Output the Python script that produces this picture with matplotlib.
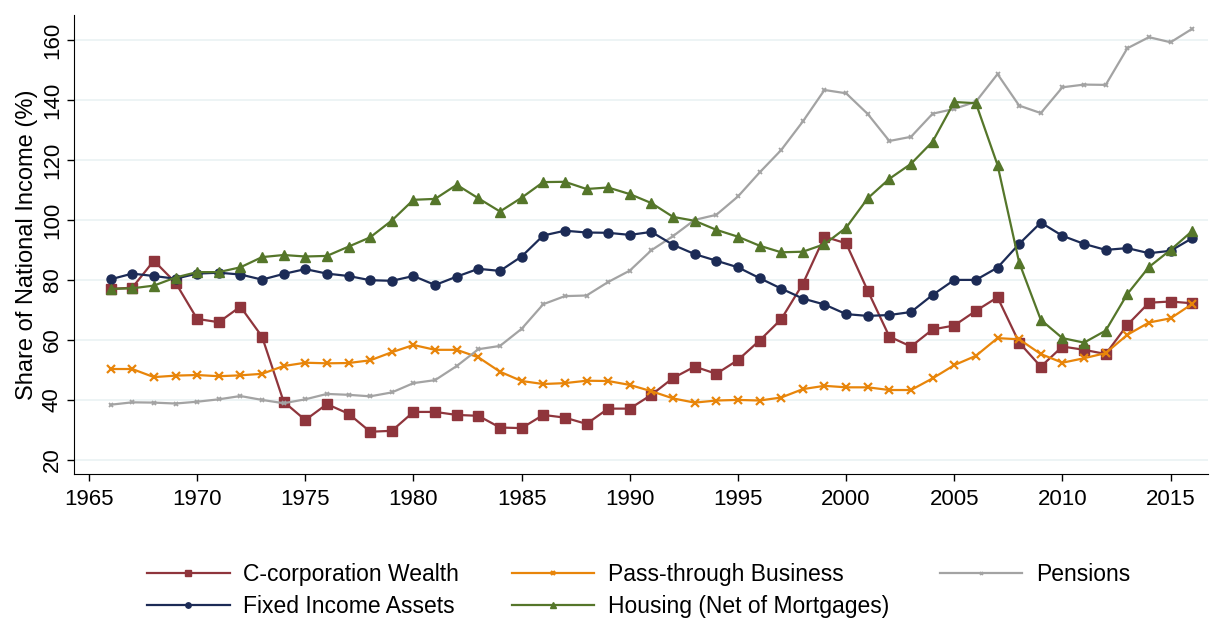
import numpy as np
import matplotlib.pyplot as plt

plt.rcParams['font.family'] = ['Liberation Sans', 'DejaVu Sans']

years = np.arange(1966, 2017)

# shares of national income (%)
ccorp = [77.0, 77.4, 86.4, 79.1, 67.0, 65.9, 71.1, 61.1, 39.4, 33.3,
         38.6, 35.4, 29.4, 29.7, 36.0, 36.0, 35.0, 34.7, 30.8, 30.6,
         35.0, 34.1, 32.0, 37.1, 37.1, 41.7, 47.3, 51.1, 48.7, 53.3,
         59.8, 66.9, 78.7, 94.4, 92.2, 76.4, 61.1, 57.8, 63.5, 64.8,
         69.7, 74.2, 59.1, 51.1, 57.8, 56.7, 55.3, 65.0, 72.4, 72.8, 72.2]
passthru = [50.3, 50.3, 47.6, 48.1, 48.3, 47.9, 48.2, 48.7, 51.3, 52.4,
            52.2, 52.3, 53.2, 55.9, 58.3, 56.7, 56.7, 54.2, 49.4, 46.3,
            45.3, 45.6, 46.4, 46.3, 45.0, 42.9, 40.5, 39.1, 39.8, 40.0,
            39.8, 40.8, 43.6, 44.7, 44.2, 44.2, 43.3, 43.3, 47.2, 51.6,
            54.7, 60.6, 60.2, 55.3, 52.4, 53.9, 55.6, 61.7, 65.8, 67.2, 72.0]
pensions = [38.4, 39.2, 39.1, 38.8, 39.4, 40.2, 41.3, 40.0, 38.9, 40.2,
            42.0, 41.7, 41.2, 42.5, 45.6, 46.6, 51.3, 56.9, 58.0, 63.7,
            71.9, 74.6, 74.8, 79.3, 83.1, 89.9, 94.6, 100.0, 101.7, 107.8,
            115.8, 123.3, 132.8, 143.3, 142.2, 135.3, 126.3, 127.7, 135.4, 137.0,
            139.4, 148.6, 138.1, 135.6, 144.2, 145.1, 145.0, 157.2, 160.9, 159.2, 163.7]
fixed = [80.2, 82.1, 81.3, 80.4, 82.1, 82.4, 81.8, 80.1, 82.0, 83.6,
         82.1, 81.3, 79.9, 79.7, 81.3, 78.3, 81.1, 83.7, 83.0, 87.8,
         94.8, 96.4, 95.8, 95.7, 95.0, 96.0, 91.7, 88.6, 86.4, 84.2,
         80.6, 77.1, 73.8, 71.8, 68.6, 68.0, 68.3, 69.3, 75.0, 80.0,
         80.0, 84.1, 92.0, 99.1, 94.7, 92.0, 90.0, 90.6, 88.9, 89.7, 93.9]
housing = [77.0, 77.2, 78.1, 80.8, 82.6, 82.6, 84.2, 87.6, 88.3, 87.8,
           88.0, 91.1, 94.2, 99.8, 106.7, 107.0, 111.7, 107.2, 102.8, 107.4,
           112.6, 112.7, 110.3, 110.8, 108.6, 105.6, 101.0, 99.7, 96.7, 94.4,
           91.4, 89.2, 89.4, 91.9, 97.4, 107.2, 113.7, 118.7, 126.1, 139.3,
           138.9, 118.3, 85.8, 66.7, 60.6, 59.1, 63.1, 75.3, 84.3, 90.0, 96.3]

fig = plt.figure(figsize=(12.1, 6.19), dpi=100)
ax = fig.add_axes([0.0612, 0.2342, 0.9368, 0.7416])

l1, = ax.plot(years, ccorp, color='#8f353c', marker='s', ms=7, lw=1.6,
              label='C-corporation Wealth')
l2, = ax.plot(years, passthru, color='#e8850a', marker='x', ms=5.5, mew=1.6, lw=1.6,
              label='Pass-through Business')
l3, = ax.plot(years, pensions, color='#a3a3a3', marker='x', ms=3.5, mew=1.3, lw=1.6,
              label='Pensions')
l4, = ax.plot(years, fixed, color='#1c2b56', marker='o', ms=6.5, lw=1.6,
              label='Fixed Income Assets')
l5, = ax.plot(years, housing, color='#55762a', marker='^', ms=7.5, lw=1.6,
              label='Housing (Net of Mortgages)')

ax.set_xlim(1964.31, 2016.71)
ax.set_ylim(15.3, 168.3)
ax.set_xticks(np.arange(1965, 2016, 5))
ax.set_yticks(np.arange(20, 161, 20))
ax.tick_params(axis='both', labelsize=16, length=5, width=1, color='black')
plt.setp(ax.get_yticklabels(), rotation=90, va='center')
ax.tick_params(axis='y', pad=3)
ax.tick_params(axis='x', pad=6)
ax.grid(axis='y', color='#eaf2f3', lw=1.2)
ax.set_axisbelow(True)
for s in ['top', 'right']:
    ax.spines[s].set_visible(False)
ax.set_ylabel('Share of National Income (%)', fontsize=17, labelpad=3)

# three one-column legends placed like the reference
cols = [([l1, l4], 0.1215), ([l2, l5], 0.423), ([l3], 0.7765)]
for handles, x0 in cols:
    fig.legend(handles=handles, loc='upper left', bbox_to_anchor=(x0, 0.0905),
               frameon=False, fontsize=16.5, handlelength=3.6, handletextpad=0.6,
               labelspacing=0.4, markerscale=0.6, borderaxespad=0, borderpad=0)

fig.savefig('out.png', dpi=100)
